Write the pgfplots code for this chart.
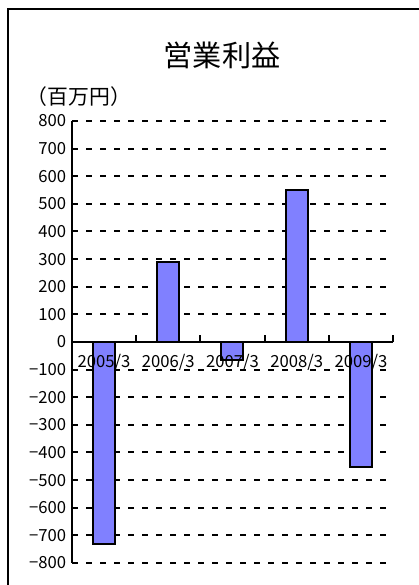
\documentclass[border=0pt]{standalone}
\usepackage{fontspec}
\setmainfont{Noto Sans CJK JP}
\usepackage{pgfplots}
\pgfplotsset{compat=1.18}
\definecolor{barblue}{HTML}{8080FF}
\pgfplotsset{
  common/.style={
    at={(43.2pt,13.2pt)}, anchor=south west,
    scale only axis, width=192.6pt, height=265.2pt,
    xmin=-0.5, xmax=4.5, ymin=-800, ymax=800,
    ytick={-800,-700,...,800},
  }
}
\begin{document}
\begin{tikzpicture}
% grid layer (behind the bars)
\begin{axis}[
  common,
  axis line style={draw=none},
  xtick=\empty, yticklabels={}, ytick style={draw=none},
  ymajorgrids,
  major grid style={black, line width=1.2pt, dash pattern=on 3.6pt off 4.8pt},
]
\end{axis}
\begin{axis}[
  common,
  axis on top,
  axis x line=middle, axis y line=left,
  axis line style={-, line width=1.2pt, black},
  xtick={0,1,2,3,4},
  xticklabels={2005/3,2006/3,2007/3,2008/3,2009/3},
  xtick style={draw=none},
  extra x ticks={0.5,1.5,2.5,3.5,4.5},
  extra x tick labels={},
  extra x tick style={tick style={draw=black, line width=1.2pt}, major tick length=4pt, tick align=inside, xtick style={draw=black}},
  xticklabel style={font=\fontsize{10}{11}\selectfont, anchor=north, yshift=-1pt},
  yticklabels={−800,−700,−600,−500,−400,−300,−200,−100,0,100,200,300,400,500,600,700,800},
  yticklabel style={font=\fontsize{10}{11}\selectfont},
  ytick style={line width=1.2pt, black},
  major tick length=3pt, tick align=inside,
  ybar, bar width=13.2pt,
]
\addplot[fill=barblue, draw=black, line width=1.2pt] coordinates {(0,-732) (1,290) (2,-65) (3,550) (4,-453)};
\end{axis}
\draw[line width=1.2pt] (4.8pt,-2pt) -- (4.8pt,345.6pt) -- (255pt,345.6pt);
\node at (133.2pt,318pt) {\fontsize{17.5}{20}\selectfont 営業利益};
\node at (47.4pt,292.8pt) {\fontsize{12.5}{14}\selectfont （百万円）};
\pgfresetboundingbox
\useasboundingbox (0,0) rectangle (251.4pt,351pt);
\end{tikzpicture}
\end{document}
